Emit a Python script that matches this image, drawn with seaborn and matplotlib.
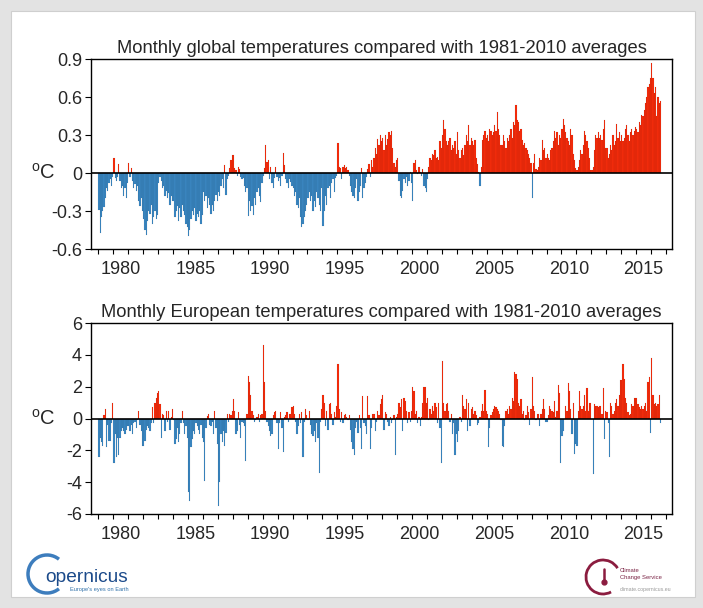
import matplotlib
matplotlib.use("Agg")
import numpy as np
import pandas as pd
import seaborn as sns
import matplotlib.pyplot as plt
from matplotlib.patches import Rectangle, Arc
from matplotlib.lines import Line2D
from matplotlib.transforms import blended_transform_factory

# monthly anomalies (deg C vs 1981-2010), first value = January 1979
START_YEAR = 1979

global_anom = [
    -0.29, -0.47, -0.35, -0.30, -0.27, -0.20, -0.12, -0.14, -0.08, -0.05, -0.10, -0.03,  # 1979
    0.12, -0.04, -0.06, -0.03, 0.07, -0.06, -0.12, -0.10, -0.18, -0.12, -0.20, -0.08,  # 1980
    0.08, -0.03, 0.04, -0.06, -0.12, -0.09, -0.14, -0.10, -0.22, -0.26, -0.20, -0.30,  # 1981
    -0.36, -0.45, -0.49, -0.38, -0.30, -0.32, -0.25, -0.40, -0.35, -0.30, -0.36, -0.33,  # 1982
    -0.08, -0.03, -0.06, -0.12, -0.10, -0.18, -0.14, -0.20, -0.16, -0.25, -0.18, -0.22,  # 1983
    -0.22, -0.35, -0.30, -0.26, -0.38, -0.28, -0.35, -0.25, -0.30, -0.33, -0.40, -0.43,  # 1984
    -0.50, -0.45, -0.36, -0.30, -0.33, -0.28, -0.38, -0.32, -0.35, -0.30, -0.40, -0.33,  # 1985
    -0.15, -0.22, -0.18, -0.28, -0.20, -0.25, -0.32, -0.25, -0.30, -0.22, -0.17, -0.22,  # 1986
    -0.15, -0.18, -0.10, -0.05, -0.12, 0.06, -0.17, -0.05, -0.02, 0.04, 0.10, 0.14,  # 1987
    0.14, 0.04, 0.02, -0.02, 0.05, 0.03, -0.03, -0.05, -0.04, -0.10, -0.15, -0.12,  # 1988
    -0.34, -0.22, -0.30, -0.26, -0.33, -0.20, -0.25, -0.15, -0.12, -0.18, -0.23, -0.08,  # 1989
    -0.02, 0.04, 0.22, 0.09, 0.10, -0.05, 0.05, -0.08, -0.12, -0.04, 0.05, -0.03,  # 1990
    -0.06, -0.04, -0.10, -0.02, 0.16, 0.06, -0.05, -0.08, -0.12, -0.05, -0.07, -0.10,  # 1991
    -0.12, -0.18, -0.15, -0.25, -0.28, -0.20, -0.35, -0.43, -0.40, -0.35, -0.30, -0.25,  # 1992
    -0.20, -0.15, -0.22, -0.18, -0.30, -0.22, -0.27, -0.15, -0.20, -0.25, -0.30, -0.12,  # 1993
    -0.42, -0.30, -0.18, -0.25, -0.12, -0.10, -0.20, -0.08, -0.05, -0.15, -0.04, -0.02,  # 1994
    0.24, 0.05, 0.04, -0.05, 0.05, 0.06, 0.04, 0.05, 0.02, -0.02, -0.10, -0.15,  # 1995
    -0.18, -0.20, -0.12, -0.05, -0.22, -0.15, -0.10, 0.04, -0.20, -0.12, -0.08, -0.03,  # 1996
    0.03, 0.07, -0.03, 0.10, 0.05, 0.12, 0.20, 0.15, 0.27, 0.22, 0.30, 0.25,  # 1997
    0.28, 0.18, 0.30, 0.22, 0.27, 0.32, 0.30, 0.33, 0.20, 0.08, 0.05, 0.10,  # 1998
    0.12, -0.06, -0.18, -0.20, -0.14, -0.05, -0.08, -0.03, -0.10, -0.06, 0.01, -0.08,  # 1999
    -0.22, 0.08, 0.10, 0.02, -0.01, 0.05, 0.01, -0.02, 0.03, -0.10, -0.12, -0.15,  # 2000
    -0.05, 0.05, 0.12, 0.10, 0.15, 0.14, 0.18, 0.12, 0.13, 0.10, 0.25, 0.20,  # 2001
    0.30, 0.42, 0.35, 0.25, 0.22, 0.25, 0.28, 0.18, 0.22, 0.20, 0.25, 0.15,  # 2002
    0.32, 0.18, 0.12, 0.18, 0.20, 0.14, 0.22, 0.30, 0.25, 0.38, 0.22, 0.28,  # 2003
    0.25, 0.22, 0.26, 0.12, 0.07, 0.01, -0.10, 0.05, 0.26, 0.30, 0.33, 0.28,  # 2004
    0.30, 0.25, 0.35, 0.33, 0.30, 0.32, 0.38, 0.33, 0.48, 0.35, 0.30, 0.22,  # 2005
    0.22, 0.30, 0.25, 0.20, 0.28, 0.25, 0.30, 0.35, 0.28, 0.40, 0.38, 0.54,  # 2006
    0.42, 0.40, 0.33, 0.35, 0.26, 0.22, 0.24, 0.20, 0.18, 0.15, 0.12, 0.08,  # 2007
    -0.20, 0.08, 0.15, 0.03, 0.02, 0.05, 0.12, 0.10, 0.26, 0.18, 0.20, 0.12,  # 2008
    0.15, 0.12, 0.10, 0.18, 0.20, 0.25, 0.33, 0.28, 0.32, 0.22, 0.30, 0.28,  # 2009
    0.35, 0.43, 0.38, 0.32, 0.28, 0.25, 0.22, 0.35, 0.30, 0.15, 0.10, 0.04,  # 2010
    0.02, 0.05, 0.10, 0.18, 0.15, 0.22, 0.33, 0.30, 0.25, 0.20, 0.12, 0.02,  # 2011
    0.02, 0.05, 0.18, 0.30, 0.28, 0.32, 0.28, 0.30, 0.26, 0.35, 0.42, 0.20,  # 2012
    0.20, 0.12, 0.15, 0.22, 0.18, 0.30, 0.22, 0.25, 0.39, 0.28, 0.32, 0.25,  # 2013
    0.30, 0.25, 0.28, 0.35, 0.38, 0.30, 0.25, 0.32, 0.35, 0.30, 0.33, 0.36,  # 2014
    0.35, 0.32, 0.40, 0.38, 0.46, 0.45, 0.50, 0.55, 0.60, 0.68, 0.70, 0.75,  # 2015
    0.87, 0.75, 0.63, 0.68, 0.45, 0.60, 0.55, 0.57,  # 2016
]

europe_anom = [
    -2.45, -1.2, -1.5, -1.7, 0.2, 0.6, -1.8, -0.4, -1.4, -1.4, -0.3, 1.0,  # 1979
    -2.8, -1.0, -2.4, -1.2, -2.3, -1.2, -0.8, -0.6, -0.8, -1.0, -0.7, -0.5,  # 1980
    -0.5, -0.8, -0.4, -1.0, -0.3, -0.2, -0.6, -0.1, 0.45, -0.4, -0.8, -1.7,  # 1981
    -1.7, -1.4, -0.7, -0.5, -0.6, -0.8, -0.3, 0.7, -0.3, 1.0, 1.3, 1.6,  # 1982
    1.7, 0.9, -1.2, 0.3, 0.2, -0.8, 0.5, -0.2, 0.5, -0.7, 0.1, 0.6,  # 1983
    -0.1, -1.6, -1.3, -0.6, -1.5, -1.0, -0.3, 0.5, -0.3, -1.0, -0.5, -1.2,  # 1984
    -4.6, -5.2, -1.8, -1.3, -0.8, -1.0, -0.3, -0.5, -0.7, -1.0, -0.4, -1.2,  # 1985
    -1.5, -3.9, -0.6, 0.15, 0.3, -0.4, -0.5, -0.2, -1.0, 0.5, -0.6, -1.6,  # 1986
    -5.5, -4.0, -1.0, -1.5, -0.8, -1.7, -0.9, 0.3, -0.2, 0.3, 0.2, 0.5,  # 1987
    1.2, 0.5, -1.0, -0.8, 0.4, -0.4, -1.2, -0.2, -0.3, -0.5, -2.7, 0.3,  # 1988
    2.7, 2.3, 1.5, 0.5, 0.2, -0.2, -0.1, 0.1, 0.3, -0.2, 0.2, 0.3,  # 1989
    4.6, 2.3, 0.5, -0.2, -0.5, -0.8, -1.1, -1.0, 0.2, 0.4, 0.5, -0.3,  # 1990
    -1.9, -0.3, 0.4, -0.6, -2.1, 0.1, 0.2, 0.4, -0.2, 0.3, 0.3, 0.7,  # 1991
    0.8, 0.3, -0.2, -1.0, -0.5, 0.3, -0.3, 0.4, -2.4, -0.2, 0.6, 0.2,  # 1992
    -0.1, 0.5, -0.4, -1.0, -1.1, -0.8, -1.5, -0.3, -1.2, -3.4, -0.2, 0.6,  # 1993
    1.5, 1.0, -0.5, 0.5, -0.7, 0.9, 1.0, 0.3, -0.4, 0.4, 0.1, 0.8,  # 1994
    3.4, 0.6, -0.2, 0.4, -0.3, 0.2, 0.3, 0.1, -0.1, 0.2, -0.7, -1.5,  # 1995
    -1.9, -2.3, -0.6, -0.2, -0.9, 0.2, -0.6, -1.9, 1.4, -0.3, -0.5, -1.0,  # 1996
    1.4, 0.2, -1.9, -0.6, 0.3, 0.3, -0.8, -0.2, 0.5, 0.2, 0.9, 1.2,  # 1997
    1.5, -0.7, 0.4, 0.3, -0.2, -0.5, 0.1, -0.3, -0.1, 0.2, -2.3, 0.1,  # 1998
    0.3, 1.0, 0.7, 1.2, -0.8, 1.3, 1.1, 0.5, -0.3, 0.4, -0.2, 0.5,  # 1999
    2.0, 1.7, 0.3, 0.5, -0.3, 0.1, -0.5, 0.1, 1.0, 2.0, 2.0, 1.0,  # 2000
    1.3, -0.1, 0.6, 0.3, 0.8, 0.5, 1.0, 0.7, -0.3, 1.0, -0.6, -2.8,  # 2001
    3.6, 1.0, 0.5, 0.9, 1.0, 0.5, -0.2, 0.3, -1.0, -0.3, -2.3, -1.0,  # 2002
    -1.5, -0.8, 0.1, -0.2, 1.5, 0.8, 0.6, 1.2, -0.8, 1.0, -0.5, 0.6,  # 2003
    0.7, 0.3, 0.5, 0.2, -0.4, -0.3, 0.1, 0.5, 0.9, 0.5, 1.8, 0.5,  # 2004
    0.3, -1.8, -0.6, 0.2, 0.4, 0.6, 0.8, 0.7, 0.6, 0.5, 0.3, -0.1,  # 2005
    -1.7, -1.8, -0.5, 0.5, 0.6, 0.3, 0.8, 0.6, 1.3, 1.1, 2.9, 2.8,  # 2006
    2.5, 1.0, 0.8, 1.2, 0.3, 0.5, -0.1, 0.2, 0.8, 0.4, -0.4, 0.6,  # 2007
    2.6, 0.8, 0.5, -0.1, 0.3, 0.3, -0.5, 0.3, 0.6, 1.2, 0.6, -0.2,  # 2008
    -0.2, 0.2, 0.8, 0.6, 0.5, 0.4, 1.1, 0.1, 0.5, 2.1, 1.6, -2.8,  # 2009
    -1.1, -0.8, 0.0, 0.8, 0.5, 2.2, 1.7, 0.6, -1.0, 1.0, -2.2, -1.6,  # 2010
    -1.7, 0.5, 1.7, 0.8, 0.6, 0.8, 1.5, 0.5, 1.9, 0.5, 1.0, 1.0,  # 2011
    0.0, -3.5, 0.9, 0.8, 0.8, 0.7, 0.8, 0.8, 0.3, 1.9, -1.3, 0.5,  # 2012
    0.4, -0.3, -2.4, 1.0, 0.8, 0.3, 0.5, 1.0, 1.2, 0.8, 1.5, 2.4,  # 2013
    2.4, 3.4, 2.5, 1.3, 1.0, 0.4, 0.2, 0.3, 0.9, 0.8, 1.3, 1.3,  # 2014
    1.3, 0.9, 0.7, 0.6, 0.8, 0.6, 0.8, 1.0, 0.5, 2.3, 2.6, -0.9,  # 2015
    3.8, 1.5, 0.9, 1.0, 0.8, 0.9, 1.5, -0.3,  # 2016
]

global_ticks = [-0.6, -0.3, 0, 0.3, 0.6, 0.9]
global_tick_labels = ["-0.6", "-0.3", "0", "0.3", "0.6", "0.9"]
europe_ticks = [-6, -4, -2, 0, 2, 4, 6]
europe_tick_labels = ["-6", "-4", "-2", "0", "2", "4", "6"]
year_labels = [1980, 1985, 1990, 1995, 2000, 2005, 2010, 2015]

RED = "#f72d0c"
BLUE = "#3b88c4"

sns.set_theme(style="white")
plt.rcParams["font.family"] = ["Liberation Sans", "DejaVu Sans"]
plt.rcParams["axes.unicode_minus"] = False
plt.rcParams["mathtext.fontset"] = "custom"
plt.rcParams["mathtext.rm"] = "Liberation Sans"

W, H = 703, 608
fig = plt.figure(figsize=(W / 100, H / 100), dpi=100)
fig.patch.set_facecolor("#e3e3e3")
fig.patches.append(Rectangle((11 / W, 1 - 597 / H), (695 - 11) / W, (597 - 11) / H,
                             transform=fig.transFigure, facecolor="white",
                             edgecolor="#cfcfcf", lw=0.8, zorder=-10))


def monthly_frame(values):
    vals = np.array(values)
    months = np.arange(len(vals))
    return pd.DataFrame({
        "time": START_YEAR + (months + 0.5) / 12,
        "anom": vals,
        "sign": np.where(vals >= 0, "warm", "cold"),
    })


def draw_panel(ax, values, title, ticks, tick_labels):
    df = monthly_frame(values)
    sns.barplot(data=df, x="time", y="anom", hue="sign",
                palette={"warm": RED, "cold": BLUE}, native_scale=True,
                width=1.0, dodge=False, saturation=1, errorbar=None,
                legend=False, edgecolor=(0, 0, 0, 0.15), linewidth=0.25, ax=ax)
    ax.axhline(0, color="black", lw=1.2, zorder=5)
    ax.set_xlim(1978.51, 2017.40)
    ax.set_ylim(ticks[0], ticks[-1])
    ax.set_yticks(ticks)
    ax.set_yticklabels(tick_labels, fontsize=13)
    ax.set_xticks(np.arange(1979, 2018))
    ax.set_xticklabels([])
    ax.set_xticks([y + 0.5 for y in year_labels], minor=True)
    ax.set_xticklabels([str(y) for y in year_labels], minor=True, fontsize=13)
    ax.tick_params(axis="x", which="major", direction="out", length=3.5, width=0.8,
                   color="black", bottom=True)
    ax.tick_params(axis="x", which="minor", length=0, pad=8.5, bottom=True)
    ax.tick_params(axis="y", direction="out", length=4, width=0.8, color="black",
                   pad=2.5, left=True)
    ax.set_xlabel("")
    ax.set_ylabel("")
    for s in ax.spines.values():
        s.set_color("black")
        s.set_linewidth(1.0)
    ax.set_title(title, fontsize=13.2, pad=4)
    trans = blended_transform_factory(ax.transAxes, ax.transData)
    ax.text(-0.083, 0, r"$^{\mathrm{o}}$C", transform=trans, ha="center",
            va="center", fontsize=14.5)


ax_top = fig.add_axes([91 / W, 1 - 249 / H, 581 / W, 190 / H])
ax_bot = fig.add_axes([91 / W, 1 - 514 / H, 581 / W, 191 / H])

draw_panel(ax_top, global_anom,
           "Monthly global temperatures compared with 1981-2010 averages",
           global_ticks, global_tick_labels)
draw_panel(ax_bot, europe_anom,
           "Monthly European temperatures compared with 1981-2010 averages",
           europe_ticks, europe_tick_labels)

# Copernicus logo (bottom left)
fig.patches.append(Arc((47 / W, 1 - 574 / H), 38 / W, 38 / H, theta1=55, theta2=305,
                       transform=fig.transFigure, color="#3d7dbd", lw=2.5))
fig.text(45 / W, 1 - 578 / H, "opernicus", fontsize=13.8, color="#1b4a8a",
         ha="left", va="center")
fig.text(70 / W, 1 - 590 / H, "Europe's eyes on Earth", fontsize=4.1,
         color="#2d6fa8", ha="left", va="center")

# Climate Change Service logo (bottom right)
fig.patches.append(Arc((603 / W, 1 - 577 / H), 34 / W, 34 / H, theta1=35, theta2=295,
                       transform=fig.transFigure, color="#8b1c3f", lw=2))
fig.add_artist(Line2D([604 / W, 604 / W], [1 - 569 / H, 1 - 582 / H],
                      transform=fig.transFigure, color="#8b1c3f", lw=1.8,
                      marker="o", markersize=3.5, markevery=[1]))
fig.text(620 / W, 1 - 570 / H, "Climate", fontsize=4.2, color="#7b2445",
         ha="left", va="center")
fig.text(620 / W, 1 - 578 / H, "Change Service", fontsize=4.2, color="#7b2445",
         ha="left", va="center")
fig.text(620 / W, 1 - 589 / H, "climate.copernicus.eu", fontsize=3.8,
         color="#9a9a9a", ha="left", va="center")

fig.savefig("out.png", dpi=100)
